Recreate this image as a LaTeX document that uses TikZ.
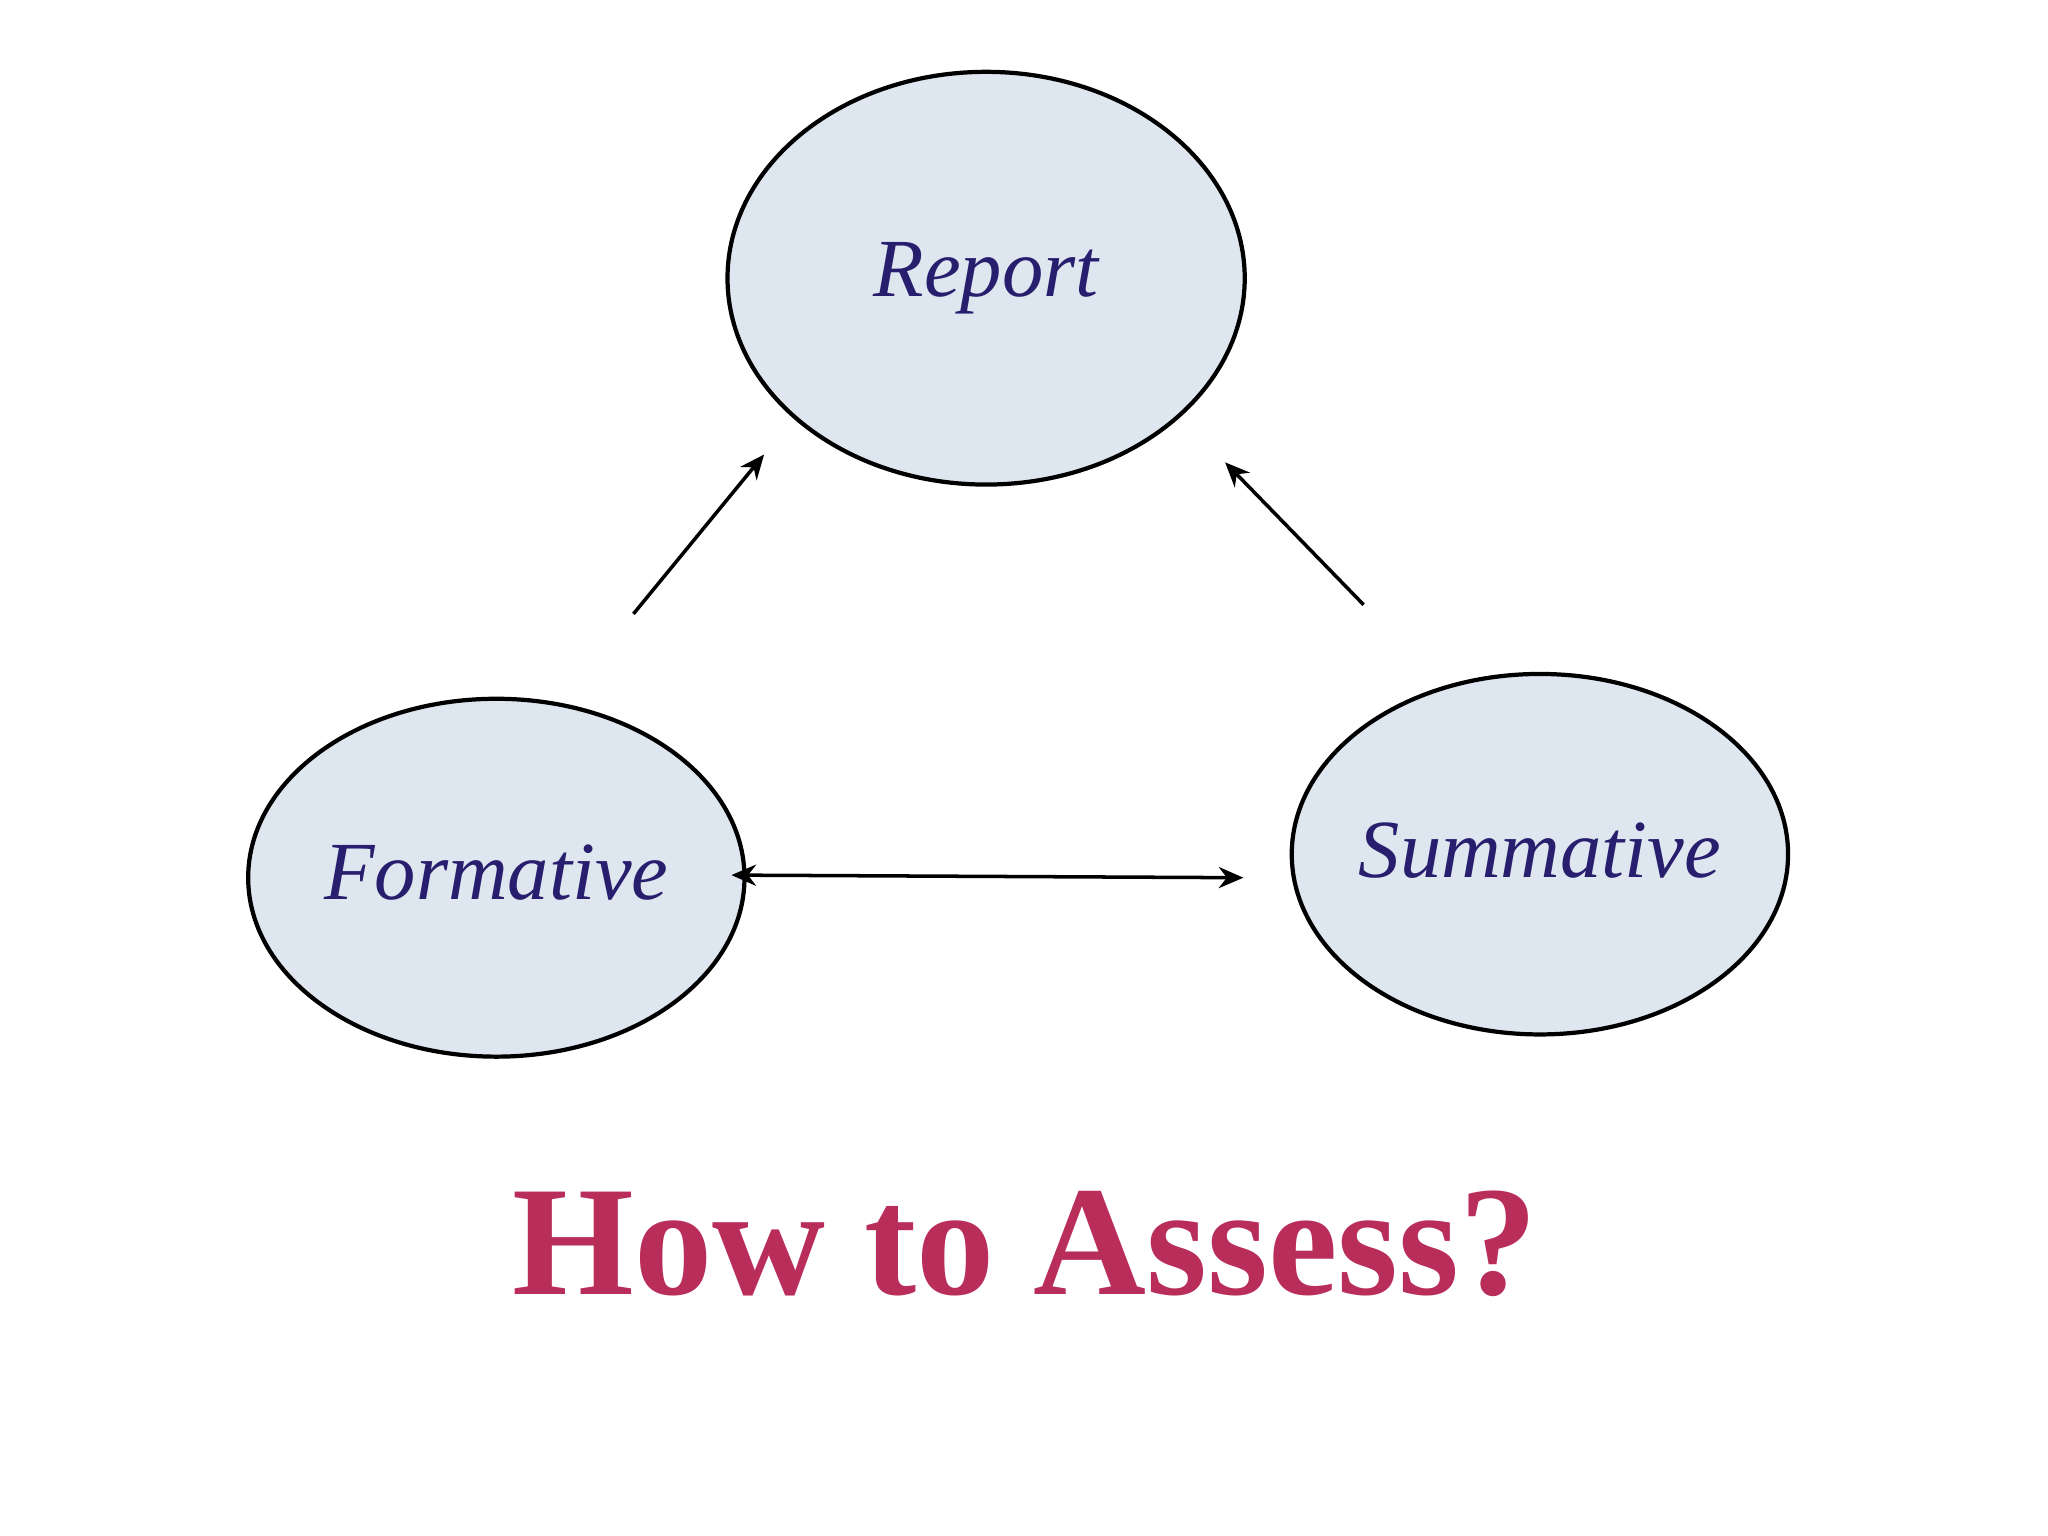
\documentclass[tikz,border=0pt]{standalone}
\usepackage{fontspec}
\setmainfont{Liberation Serif}
\usetikzlibrary{arrows.meta}
\definecolor{ellfill}{RGB}{222,230,240}
\definecolor{hand}{RGB}{40,30,110}
\definecolor{titlec}{RGB}{185,45,90}
\begin{document}
\begin{tikzpicture}[x=0.01306cm,y=-0.01306cm,
  ell/.style={draw=black,line width=1.2pt,fill=ellfill},
  lbl/.style={text=hand,font=\itshape\fontsize{23.5}{28}\selectfont},
  arr/.style={line width=1pt,-{Stealth[length=7pt,width=6pt]}}]
\useasboundingbox (0,0) rectangle (1568,1176);
\fill[white] (0,0) rectangle (1568,1176);
\draw[ell] (755,213) ellipse [x radius=198, y radius=158];
\draw[ell] (380,672) ellipse [x radius=190, y radius=137];
\draw[ell] (1179,654) ellipse [x radius=190, y radius=138];
\node[lbl] (report) at (755,213) {Report};
\node[lbl] (form) at (380,668) {Formative};
\node[lbl] (summ) at (1179,651) {Summative};
\coordinate (a1s) at (485,470); \coordinate (a1e) at (585,348);
\coordinate (a2s) at (1044,463); \coordinate (a2e) at (938,354);
\coordinate (bl) at (560,670); \coordinate (br) at (952,672);
\draw[arr] (a1s) -- (a1e);
\draw[arr] (a2s) -- (a2e);
\draw[arr,{Stealth[length=7pt,width=6pt]}-{Stealth[length=7pt,width=6pt]}] (bl) -- (br);
\node[text=titlec,font=\bfseries\fontsize{44.5}{50}\selectfont] (title) at (785,952) {How to Assess?};
\end{tikzpicture}
\end{document}
